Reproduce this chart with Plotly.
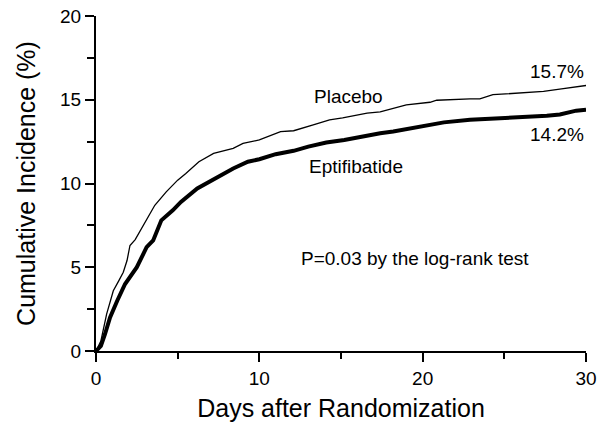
import plotly.graph_objects as go

# Days after randomization and cumulative incidence (%)
placebo_days = [0, 0.3, 0.65, 1.06, 1.4, 1.67, 1.9, 2.08, 2.4, 3.0, 3.6, 4.3, 5.0, 5.5,
                6.3, 7.2, 8.4, 9.0, 10.0, 11.3, 12.1, 13.3, 14.3, 15.1, 16.6, 17.4,
                19.0, 20.45, 20.86, 22.9, 23.5, 24.3, 27.4, 28.5, 30]
placebo_vals = [0, 0.6, 2.2, 3.6, 4.2, 4.7, 5.4, 6.3, 6.65, 7.7, 8.7, 9.5, 10.2, 10.6,
                11.3, 11.8, 12.1, 12.4, 12.6, 13.1, 13.15, 13.5, 13.8, 13.92, 14.2, 14.28,
                14.7, 14.85, 14.97, 15.05, 15.05, 15.3, 15.5, 15.65, 15.85]

eptif_days = [0, 0.3, 0.55, 0.86, 1.3, 1.78, 2.5, 3.1, 3.5, 4.0, 4.7, 5.2, 6.2, 6.9,
              7.6, 8.4, 9.3, 10.0, 11.0, 12.1, 13.0, 14.1, 15.2, 16.2, 17.4, 18.2,
              19.3, 20.5, 21.3, 22.9, 24.5, 26.4, 27.6, 28.4, 29.4, 30]
eptif_vals = [0, 0.3, 1.0, 2.0, 3.0, 4.0, 5.0, 6.2, 6.6, 7.8, 8.4, 8.9, 9.7, 10.1,
              10.5, 10.9, 11.3, 11.45, 11.75, 11.95, 12.2, 12.45, 12.6, 12.8, 13.0, 13.1,
              13.3, 13.5, 13.65, 13.8, 13.88, 13.95, 14.05, 14.12, 14.35, 14.4]

x_ticks = [0, 10, 20, 30]
y_ticks = [0, 5, 10, 15, 20]

FONT = "Liberation Sans, Arial, sans-serif"

fig = go.Figure()
fig.add_trace(go.Scatter(x=placebo_days, y=placebo_vals, mode="lines",
                         line=dict(color="black", width=1.3), name="Placebo"))
fig.add_trace(go.Scatter(x=eptif_days, y=eptif_vals, mode="lines",
                         line=dict(color="black", width=4), name="Eptifibatide"))

ann_font = dict(family=FONT, size=19, color="black")
fig.add_annotation(x=13.2, y=15.2, text="Placebo", showarrow=False, font=ann_font,
                   xanchor="left", yanchor="middle")
fig.add_annotation(x=12.9, y=11.0, text="Eptifibatide", showarrow=False, font=ann_font,
                   xanchor="left", yanchor="middle")
fig.add_annotation(x=30, y=16.7, text="15.7%", showarrow=False, font=ann_font,
                   xanchor="right", yanchor="middle")
fig.add_annotation(x=30, y=12.9, text="14.2%", showarrow=False, font=ann_font,
                   xanchor="right", yanchor="middle")
fig.add_annotation(x=12.4, y=5.5, text="P=0.03 by the log-rank test", showarrow=False,
                   font=ann_font, xanchor="left", yanchor="middle")

axis_common = dict(showgrid=False, zeroline=False, showline=True, linecolor="black",
                   linewidth=2, ticks="outside", tickcolor="black", tickwidth=2,
                   ticklen=9, tickfont=dict(family=FONT, size=19, color="black"),
                   automargin=False)

fig.update_xaxes(range=[0, 30], tickvals=x_ticks, ticktext=[str(v) for v in x_ticks],
                 minor=dict(tickvals=[5, 15, 25], ticks="outside", ticklen=6,
                            tickwidth=2, tickcolor="black"),
                 title=dict(text="Days after Randomization",
                            font=dict(family=FONT, size=25, color="black"), standoff=12),
                 **axis_common)
fig.update_yaxes(range=[0, 20], tickvals=y_ticks, ticktext=[str(v) for v in y_ticks],
                 minor=dict(tickvals=[2.5, 7.5, 12.5, 17.5], ticks="outside", ticklen=7,
                            tickwidth=2, tickcolor="black"),
                 title=dict(text="Cumulative Incidence (%)",
                            font=dict(family=FONT, size=25, color="black"), standoff=17),
                 **axis_common)

fig.update_layout(width=610, height=423, margin=dict(l=96, r=24, t=16, b=72),
                  plot_bgcolor="white", paper_bgcolor="white", showlegend=False)

fig.write_html("out.html", config={"displayModeBar": False},
               post_script="document.body.style.margin='0';document.body.style.overflow='hidden';")
